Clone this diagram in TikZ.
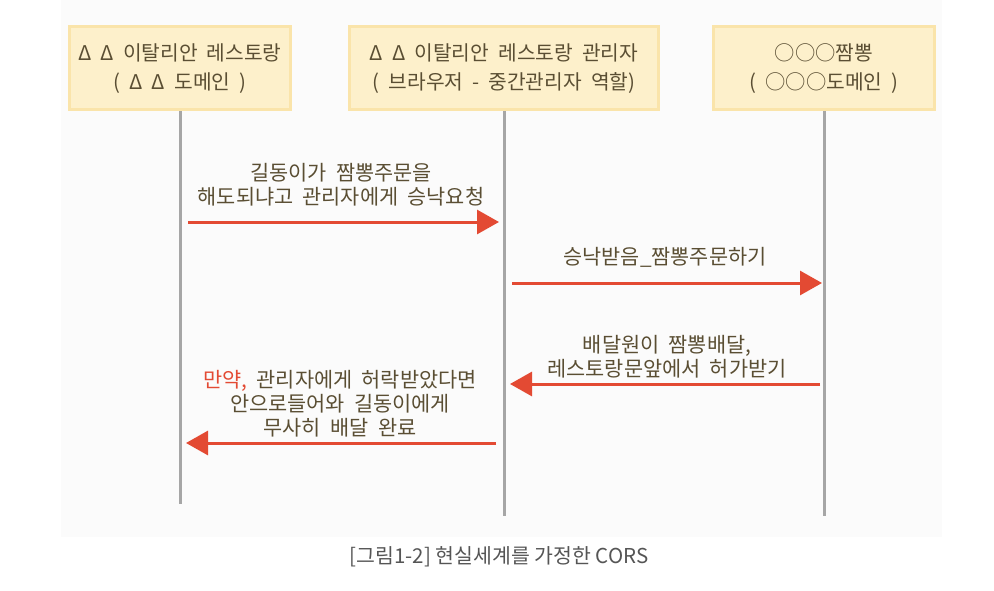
\documentclass[tikz,border=0pt]{standalone}
\usepackage{fontspec}
\setmainfont[WordSpace=2]{Noto Sans CJK KR}
\newfontfamily\capfont{Noto Sans CJK KR}
\usetikzlibrary{arrows.meta}
\definecolor{txt}{HTML}{5A4E33}
\definecolor{arr}{HTML}{E34A33}
\definecolor{lifeg}{HTML}{A6A6A6}
\definecolor{boxfill}{HTML}{FDF0CB}
\definecolor{boxline}{HTML}{FAE4AA}
\definecolor{panel}{HTML}{FBFBFB}
\definecolor{cap}{HTML}{555555}
\tikzset{
  actor/.style={draw=boxline, line width=3pt, fill=boxfill, minimum width=221pt, minimum height=83pt, inner sep=0pt, align=center, text=txt, font=\fontsize{20.3}{29}\selectfont},
  lifeline/.style={draw=lifeg, line width=3pt},
  msg/.style={draw=arr, line width=3pt, -{Triangle[length=22pt,width=24pt]}},
  lbl/.style={inner sep=0pt, align=center, text=txt, font=\fontsize{20.8}{24}\selectfont},
}
\begin{document}
\begin{tikzpicture}[x=1pt,y=-1pt]
\useasboundingbox (0,0) rectangle (994,591);
\fill[panel] (61,0) rectangle (942,537);
% actors
\node[actor] (a1) at (180,68.5) {Δ Δ 이탈리안 레스토랑\\( Δ Δ 도메인 )};
\node[actor, minimum width=309pt] (a2) at (504,68.5) {Δ Δ 이탈리안 레스토랑 관리자\\( 브라우저 - 중간관리자 역할)};
\node[actor] (a3) at (824,68.5) {○○○짬뽕\\( ○○○도메인 )};
% lifeline ends
\coordinate (e1) at (180,504);
\coordinate (e2) at (504,516);
\coordinate (e3) at (824,516);
\draw[lifeline] (a1.south) -- (e1);
\draw[lifeline] (a2.south) -- (e2);
\draw[lifeline] (a3.south) -- (e3);
% message end points
\coordinate (m1s) at (188,222); \coordinate (m1e) at (499,222);
\coordinate (m2s) at (512,283); \coordinate (m2e) at (822,283);
\coordinate (m3s) at (820,384); \coordinate (m3e) at (510,384);
\coordinate (m4s) at (496,443); \coordinate (m4e) at (186,443);
\draw[msg] (m1s) -- (m1e);
\draw[msg] (m2s) -- (m2e);
\draw[msg] (m3s) -- (m3e);
\draw[msg] (m4s) -- (m4e);
% labels
\node[lbl] (l1) at (341,185) {길동이가 짬뽕주문을\\해도되냐고 관리자에게 승낙요청};
\node[lbl] (l2) at (665,257) {승낙받음\_짬뽕주문하기};
\node[lbl] (l3) at (667,357) {배달원이 짬뽕배달,\\레스토랑문앞에서 허가받기};
\node[lbl] (l4) at (340,404) {{\color{arr}만약,} 관리자에게 허락받았다면\\안으로들어와 길동이에게\\무사히 배달 완료};
% caption
\node[inner sep=0pt, text=cap, font=\capfont\fontsize{20.5}{24}\selectfont] (cap) at (499,557) {[그림1-2] 현실세계를 가정한 CORS};
\end{tikzpicture}
\end{document}
